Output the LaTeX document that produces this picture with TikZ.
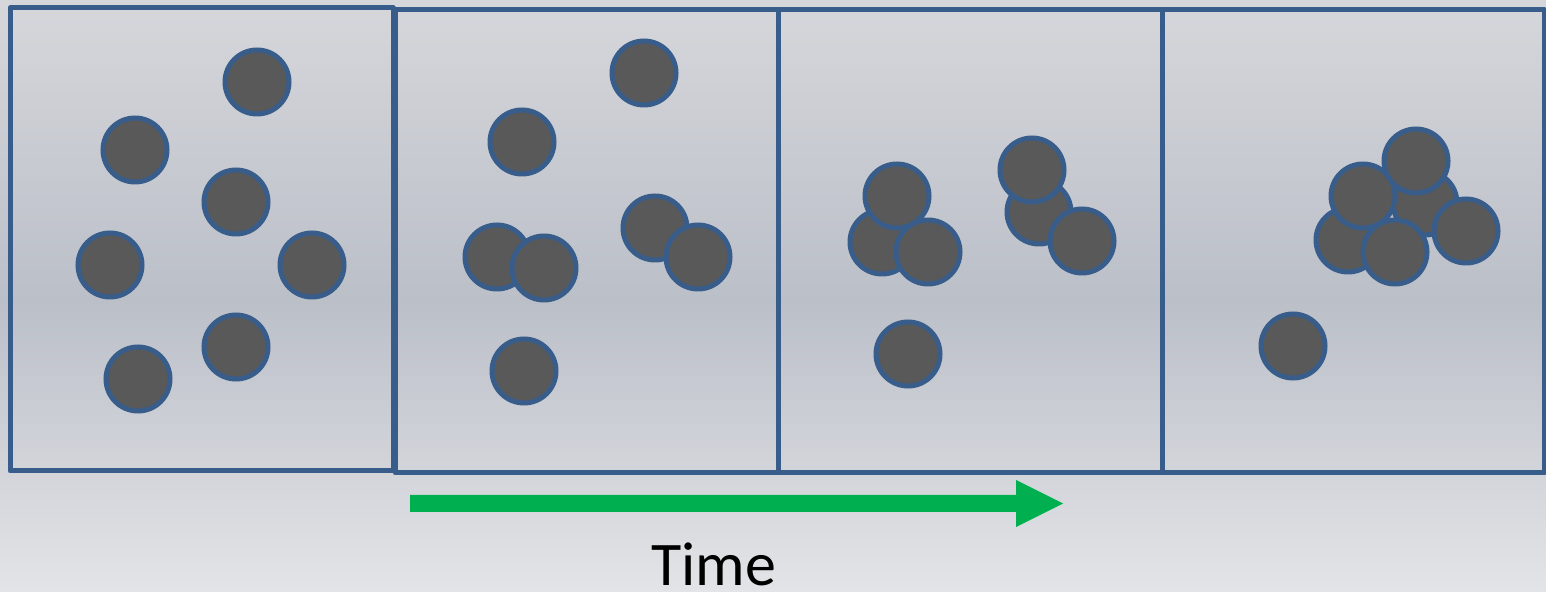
\documentclass[tikz,border=0pt]{standalone}
\usepackage{fontspec}
\setmainfont{Carlito}
\definecolor{bgtop}{HTML}{D6D7DB}
\definecolor{bgmid}{HTML}{BBBFC8}
\definecolor{bgbot}{HTML}{E3E4E7}
\definecolor{edge}{HTML}{385D8A}
\definecolor{grain}{HTML}{595959}
\definecolor{arrowgreen}{HTML}{00B050}
\tikzset{
  panel/.style={draw=edge, line width=2.5pt, line join=round},
  particle/.style={fill=grain, draw=edge, line width=2.5pt},
  timearrow/.style={fill=arrowgreen, draw=none},
  caption/.style={font=\fontsize{31}{36}\selectfont, text=black, inner sep=0pt, text depth=0pt}
}
\newcommand{\grain}[2]{\draw[particle] (#1,#2) circle[radius=16pt];}
\begin{document}
\begin{tikzpicture}[x=0.5pt,y=-0.5pt]
  \useasboundingbox (0,0) rectangle (1546,592);
  % background: light at the edges, darker across the middle
  \shade[top color=bgtop, bottom color=bgmid] (0,0) rectangle (1546,300.5);
  \shade[top color=bgmid, bottom color=bgbot] (0,300) rectangle (1546,592);

  % four snapshots
  \draw[panel] (10,8) rectangle (393,471);
  \draw[panel] (395,10) rectangle (778,473);
  \draw[panel] (778,10) rectangle (1162,473);
  \draw[panel] (1162,10) rectangle (1544,473);

  % snapshot 1: dispersed particles
  \grain{257}{82}
  \grain{135}{150}
  \grain{236}{202}
  \grain{110}{265}
  \grain{312}{265}
  \grain{236}{347}
  \grain{138}{379}

  % snapshot 2: pairs forming
  \grain{644}{73}
  \grain{522}{142}
  \grain{497}{257}
  \grain{544}{268}
  \grain{655}{228}
  \grain{698}{257}
  \grain{524}{371}

  % snapshot 3: small clusters
  \grain{882}{242}
  \grain{897}{196}
  \grain{928}{252}
  \grain{1039}{212}
  \grain{1032}{170}
  \grain{1082}{241}
  \grain{908}{354}

  % snapshot 4: one aggregate
  \grain{1425}{203}
  \grain{1348}{240}
  \grain{1363}{196}
  \grain{1416}{161}
  \grain{1395}{252}
  \grain{1466}{231}
  \grain{1293}{346}

  % time axis
  \fill[timearrow] (410,495) -- (1016,495) -- (1016,480) -- (1063,503.5)
    -- (1016,527) -- (1016,512) -- (410,512) -- cycle;
  \node[caption, anchor=base] (time) at (714,585) {Time};
\end{tikzpicture}
\end{document}
